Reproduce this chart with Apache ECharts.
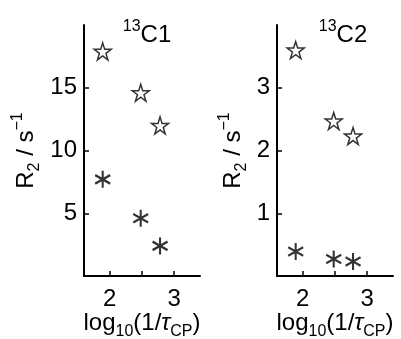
<!DOCTYPE html>
<html>
<head>
<meta charset="utf-8">
<script src="https://cdn.jsdelivr.net/npm/echarts@6/dist/echarts.min.js"></script>
<style>
  html, body { margin: 0; padding: 0; background: #fff; }
  #chart { width: 401px; height: 339px; }
</style>
</head>
<body>
<div id="chart"></div>
<script>
// x positions: log10(1/tau_CP)
const logRate = [1.89, 2.48, 2.78];

// 13C1 panel
const c1Star = [17.9, 14.6, 12.0];
const c1Aster = [7.7, 4.6, 2.4];

// 13C2 panel
const c2Star = [3.6, 2.47, 2.23];
const c2Aster = [0.39, 0.27, 0.23];

const xTicks = [2, 2.5, 3];
const xLabels = [2, 3];
const c1YTicks = [5, 10, 15];
const c2YTicks = [1, 2, 3];

const FONT = 'Liberation Sans';

const starPath = 'path://M0,-10L2.245,-3.09L9.51,-3.09L3.633,1.18L5.88,8.09L0,3.82L-5.88,8.09L-3.633,1.18L-9.51,-3.09L-2.245,-3.09Z';
const asterPath = 'path://M0,-10L0,10M-8.66,-5L8.66,5M-8.66,5L8.66,-5';

const richText = {
  sub: { fontSize: 16, fontFamily: FONT, fontWeight: 'normal', color: '#000', verticalAlign: 'bottom', lineHeight: 14, padding: [0, 0, -3, 0] },
  sup: { fontSize: 16, fontFamily: FONT, fontWeight: 'normal', color: '#000', verticalAlign: 'top', lineHeight: 14, padding: [-2, 0, 0, 0] },
  tau: { fontSize: 24, fontFamily: FONT, fontWeight: 'normal', color: '#000', fontStyle: 'italic', lineHeight: 28 },
  m: { fontSize: 24, fontFamily: FONT, fontWeight: 'normal', color: '#000', lineHeight: 28 }
};

const pairs = arr => logRate.map((x, i) => [x, arr[i]]);

function makeX(idx) {
  return {
    gridIndex: idx,
    type: 'value',
    min: 1.6,
    max: 3.4,
    name: '{m|log}{sub|10}{m|(1/}{tau|τ}{sub|CP}{m|)}',
    nameLocation: 'middle',
    nameGap: 33,
    nameMoveOverlap: false,
    nameTextStyle: { rich: richText },
    splitLine: { show: false },
    axisLine: { onZero: false, lineStyle: { color: '#000', width: 2 } },
    axisTick: { inside: true, length: 5, customValues: xTicks, lineStyle: { color: '#000', width: 1.5 } },
    axisLabel: { customValues: xLabels, margin: 11, color: '#000', fontSize: 24, fontFamily: FONT }
  };
}

function makeY(idx, max, ticks, gap) {
  return {
    gridIndex: idx,
    type: 'value',
    min: 0,
    max: max,
    name: '{m|R}{sub|2}{m| / s}{sup|−1}',
    nameLocation: 'middle',
    nameGap: gap,
    nameRotate: 90,
    nameTextStyle: { rich: richText },
    splitLine: { show: false },
    axisLine: { onZero: false, lineStyle: { color: '#000', width: 2 } },
    axisTick: { inside: true, length: 5, customValues: ticks, lineStyle: { color: '#000', width: 1.5 } },
    axisLabel: { customValues: ticks, margin: 7, color: '#000', fontSize: 24, fontFamily: FONT }
  };
}

function starSeries(idx, data) {
  return {
    type: 'scatter',
    xAxisIndex: idx,
    yAxisIndex: idx,
    data: pairs(data),
    symbol: starPath,
    symbolSize: [17, 17],
    itemStyle: { color: '#fff', borderColor: '#000', borderWidth: 1.5 },
    emphasis: { disabled: true }
  };
}

function asterSeries(idx, data) {
  return {
    type: 'scatter',
    xAxisIndex: idx,
    yAxisIndex: idx,
    data: pairs(data),
    symbol: asterPath,
    symbolSize: [15, 17],
    itemStyle: { color: 'transparent', borderColor: '#000', borderWidth: 2.2 },
    emphasis: { disabled: true }
  };
}

const chart = echarts.init(document.getElementById('chart'), null, { renderer: 'canvas' });

const option = {
  backgroundColor: '#fff',
  animation: false,
  title: [
    { text: '{sup|13}{m|C1}', left: 142, top: 16, textAlign: 'center', textStyle: { fontWeight: 'normal', rich: richText } },
    { text: '{sup|13}{m|C2}', left: 338, top: 16, textAlign: 'center', textStyle: { fontWeight: 'normal', rich: richText } }
  ],
  grid: [
    { left: 84, right: 201, top: 25, bottom: 63, outerBoundsMode: 'none' },
    { left: 277, right: 8, top: 25, bottom: 63, outerBoundsMode: 'none' }
  ],
  xAxis: [makeX(0), makeX(1)],
  yAxis: [makeY(0, 20, c1YTicks, 44), makeY(1, 4, c2YTicks, 30)],
  series: [
    starSeries(0, c1Star),
    asterSeries(0, c1Aster),
    starSeries(1, c2Star),
    asterSeries(1, c2Aster)
  ]
};

chart.setOption(option);
</script>
</body>
</html>
